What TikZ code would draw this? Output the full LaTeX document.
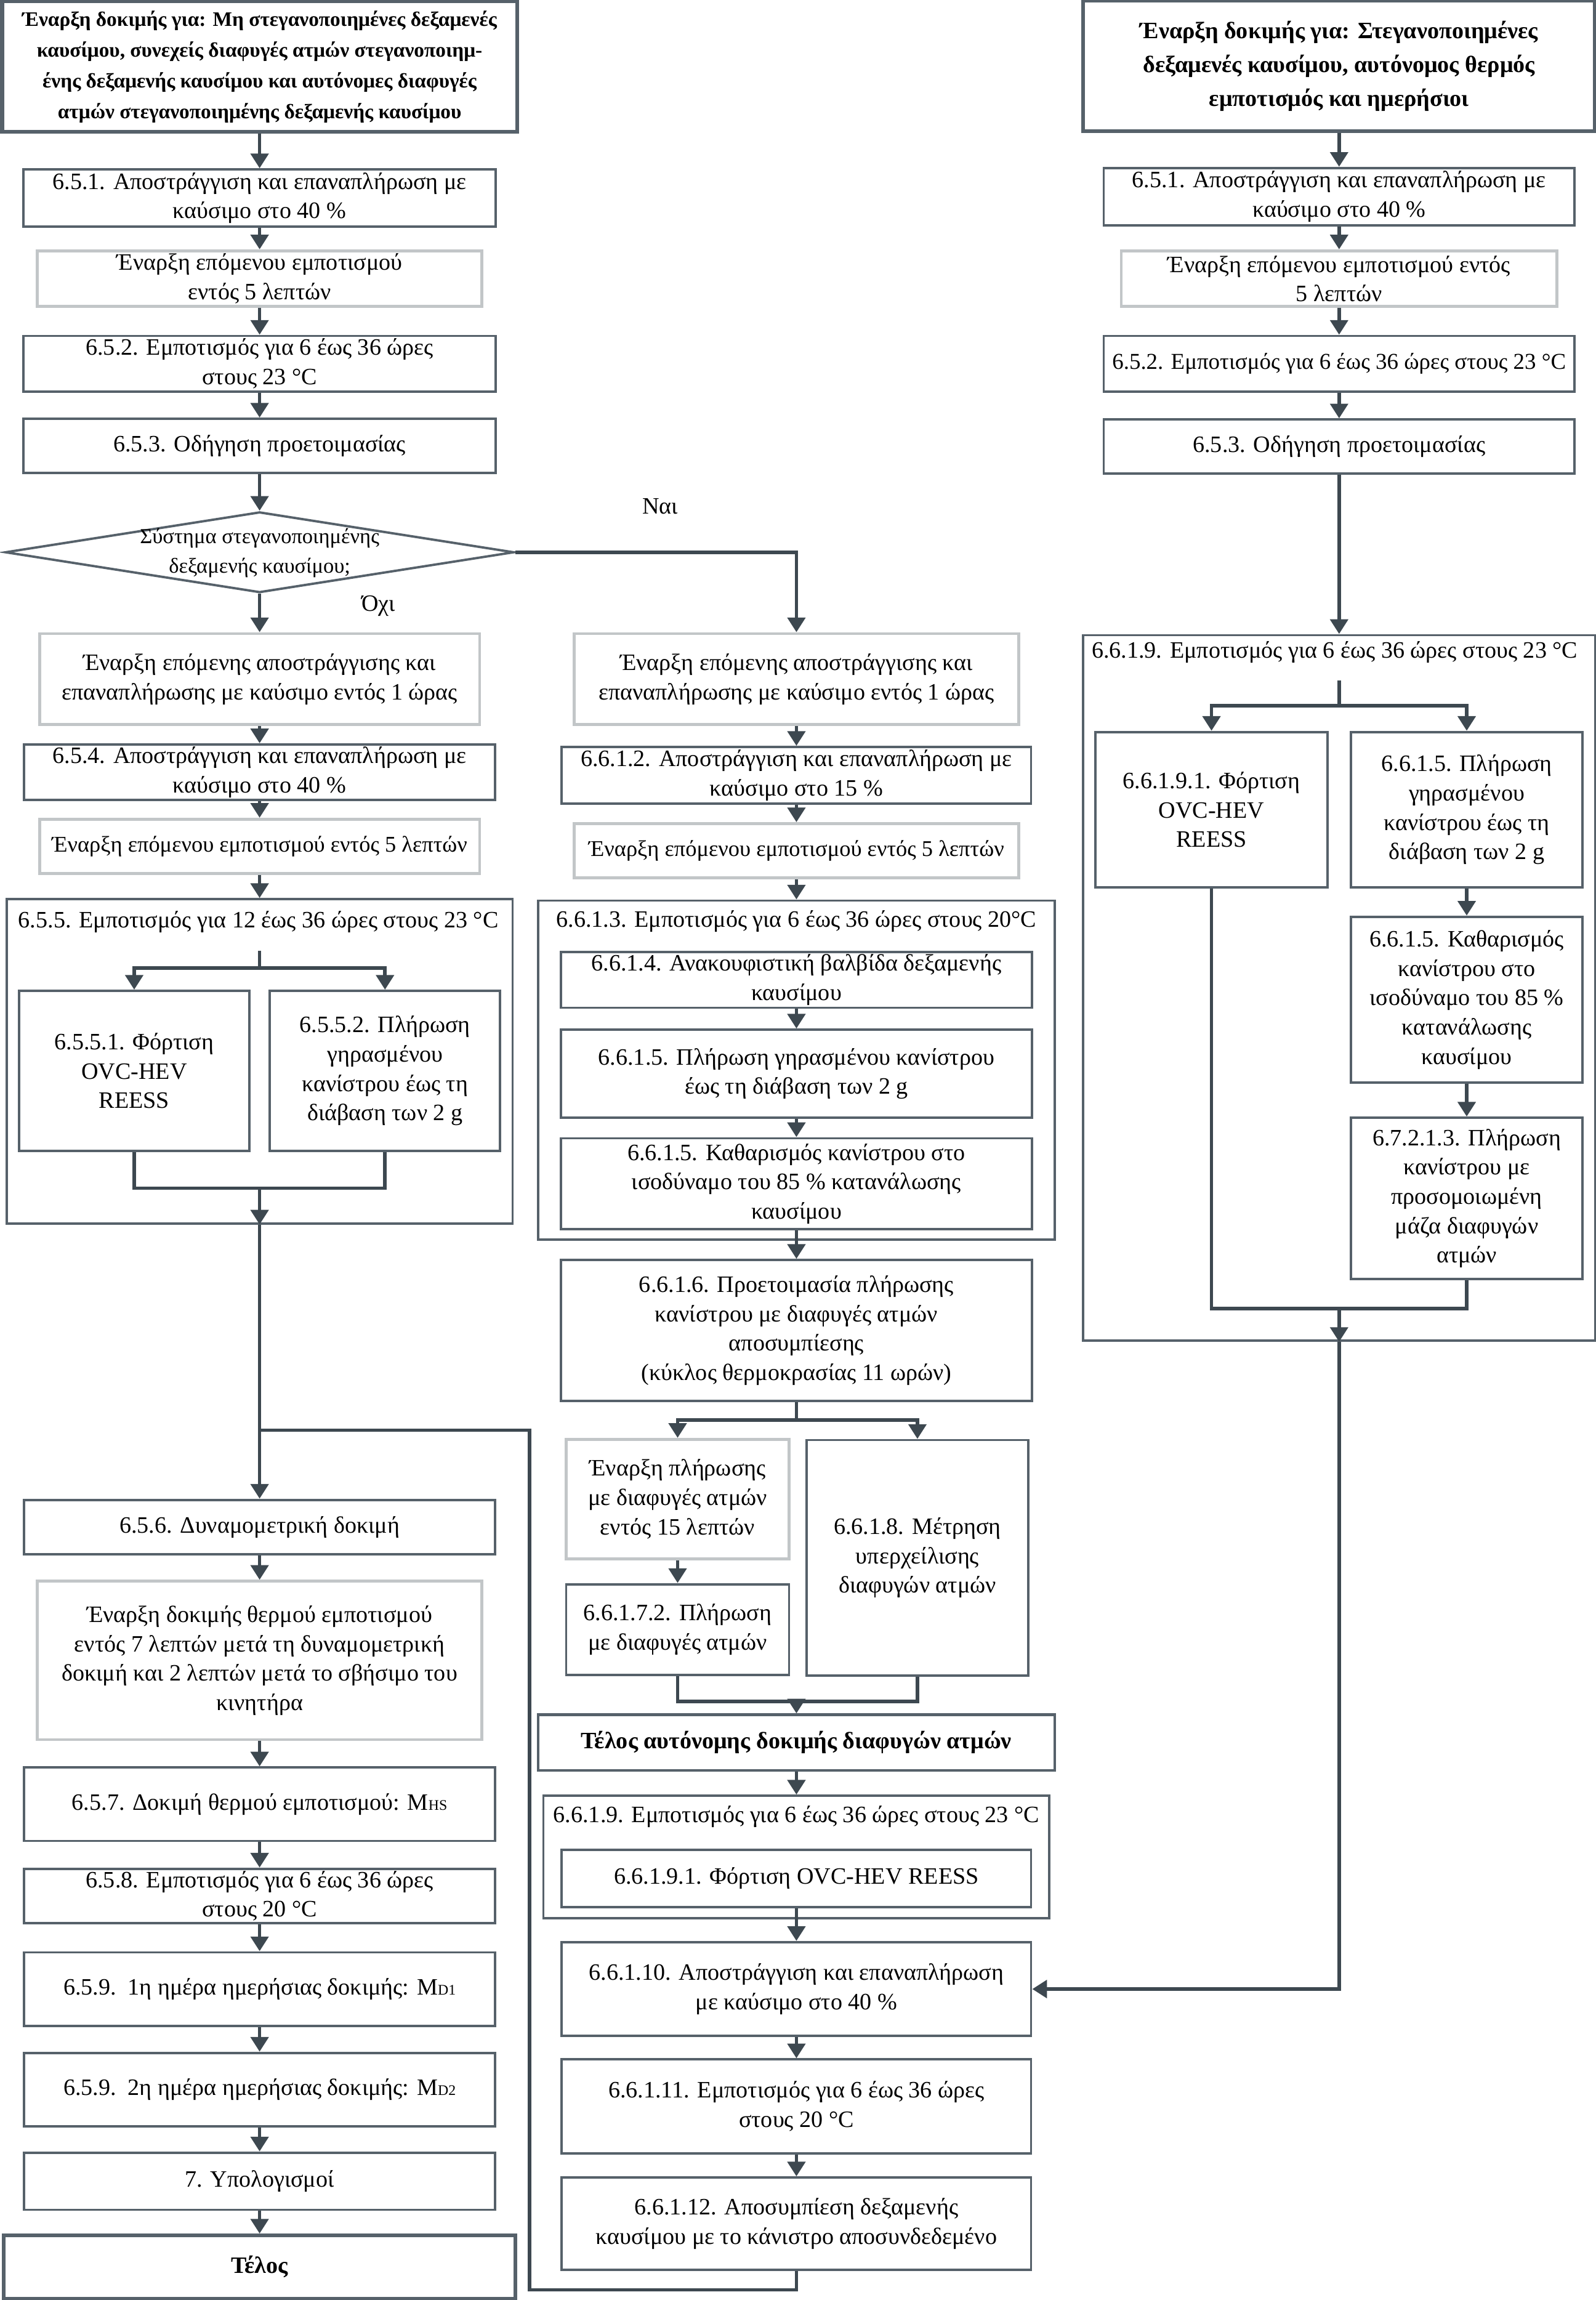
\documentclass[tikz,border=0pt]{standalone}
\usepackage{fontspec}
\setmainfont{Liberation Serif}
\usetikzlibrary{arrows.meta,shapes.geometric}
\definecolor{edge}{HTML}{56616A}
\definecolor{paleedge}{HTML}{C2C6C8}
\definecolor{wire}{HTML}{3D4850}
\newcommand\subm[1]{{\fontsize{10}{10}\selectfont #1}}

\begin{document}
\begin{tikzpicture}[
  x=1pt, y=-1pt,
  font=\fontsize{16}{20}\selectfont,
  sz/.style 2 args={minimum width=#1pt, minimum height=#2pt},
  box/.style={draw=edge, line width=1.6pt, align=center, inner sep=1pt, fill=white},
  pale/.style={box, draw=paleedge, line width=2pt},
  grp/.style={draw=edge, line width=1.6pt},
  head/.style={box, line width=2.6pt, font=\bfseries\fontsize{14}{21}\selectfont},
  ask/.style={draw=edge, line width=1.6pt, diamond, inner sep=0pt},
  ln/.style={draw=wire, line width=2.4pt},
  ar/.style={ln, -{Triangle[width=12pt,length=10pt]}}
]
\useasboundingbox (0,0) rectangle (1088,1568);

% left column: unsealed tanks
\node[head, sz={351}{89}] (l0) at (177,45.5)
     {Έναρξη δοκιμής για: Μη στεγανοποιημένες δεξαμενές\\
      καυσίμου, συνεχείς διαφυγές ατμών στεγανοποιημ-\\
      ένης δεξαμενής καυσίμου και αυτόνομες διαφυγές\\
      ατμών στεγανοποιημένης δεξαμενής καυσίμου};
\node[box, sz={322}{39}] (l651) at (177,135)
     {6.5.1. Αποστράγγιση και επαναπλήρωση με\\καύσιμο στο 40 \%};
\node[pale, sz={303}{38}] (l65s) at (177,190)
     {Έναρξη επόμενου εμποτισμού\\εντός 5 λεπτών};
\node[box, sz={322}{38}] (l652) at (177,248)
     {6.5.2. Εμποτισμός για 6 έως 36 ώρες\\στους 23 °C};
\node[box, sz={322}{37}] (l653) at (177,304) {6.5.3. Οδήγηση προετοιμασίας};
\node[ask, sz={347}{55}] (dq) at (177,376.5) {};
\node[font=\fontsize{14.5}{20}\selectfont, align=center] (dqt) at (177,377)
     {Σύστημα στεγανοποιημένης\\δεξαμενής καυσίμου;};
\node (yes) at (450,345) {Ναι};
\node (no) at (258,413) {Όχι};
\node[pale, sz={300}{62}] (l654s) at (177,463)
     {Έναρξη επόμενης αποστράγγισης και\\επαναπλήρωσης με καύσιμο εντός 1 ώρας};
\node[box, sz={321}{38}] (l654) at (177,526.5)
     {6.5.4. Αποστράγγιση και επαναπλήρωση με\\καύσιμο στο 40 \%};
\node[pale, sz={300}{37}, font=\fontsize{15.3}{20}\selectfont] (l655s) at (177,577)
     {Έναρξη επόμενου εμποτισμού εντός 5 λεπτών};
\node[grp, sz={345}{221}] (g655) at (177,723.5) {};
\node[anchor=west] (t655) at (9,628.5)
     {6.5.5. Εμποτισμός για 12 έως 36 ώρες στους 23 °C};
\node[box, sz={157}{109}] (l6551) at (91.5,730)
     {6.5.5.1. Φόρτιση\\OVC-HEV\\REESS};
\node[box, sz={157}{109}] (l6552) at (262.5,730)
     {6.5.5.2. Πλήρωση\\γηρασμένου\\κανίστρου έως τη\\διάβαση των 2 g};
\node[box, sz={321}{37}] (l656) at (177,1041) {6.5.6. Δυναμομετρική δοκιμή};
\node[pale, sz={303}{108}] (l657s) at (177,1132)
     {Έναρξη δοκιμής θερμού εμποτισμού\\εντός 7 λεπτών μετά τη δυναμομετρική\\
      δοκιμή και 2 λεπτών μετά το σβήσιμο του\\κινητήρα};
\node[box, sz={321}{50}] (l657) at (177,1230)
     {6.5.7. Δοκιμή θερμού εμποτισμού: M\subm{HS}};
\node[box, sz={321}{37}] (l658) at (177,1292.5)
     {6.5.8. Εμποτισμός για 6 έως 36 ώρες\\στους 20 °C};
\node[box, sz={321}{50}] (l659a) at (177,1356)
     {6.5.9.\ \ 1η ημέρα ημερήσιας δοκιμής: M\subm{D1}};
\node[box, sz={321}{50}] (l659b) at (177,1424.5)
     {6.5.9.\ \ 2η ημέρα ημερήσιας δοκιμής: M\subm{D2}};
\node[box, sz={321}{39}] (l7) at (177,1487) {7. Υπολογισμοί};
\node[head, sz={349}{43}, font=\bfseries\fontsize{16}{20}\selectfont] (lend)
     at (177,1545.5) {Τέλος};

% middle column: sealed system
\node[pale, sz={303}{62}] (m1s) at (543,463)
     {Έναρξη επόμενης αποστράγγισης και\\επαναπλήρωσης με καύσιμο εντός 1 ώρας};
\node[box, sz={320}{38.5}] (m612) at (543,528.5)
     {6.6.1.2. Αποστράγγιση και επαναπλήρωση με\\καύσιμο στο 15 \%};
\node[pale, sz={303}{37}, font=\fontsize{15.3}{20}\selectfont] (m613s) at (543,580)
     {Έναρξη επόμενου εμποτισμού εντός 5 λεπτών};
\node[grp, sz={352}{231}] (g613) at (543,729.5) {};
\node (t613) at (543,628) {6.6.1.3. Εμποτισμός για 6 έως 36 ώρες στους 20°C};
\node[box, sz={321}{38}] (m614) at (543,668)
     {6.6.1.4. Ανακουφιστική βαλβίδα δεξαμενής\\καυσίμου};
\node[box, sz={321}{60}] (m615a) at (543,732)
     {6.6.1.5. Πλήρωση γηρασμένου κανίστρου\\έως τη διάβαση των 2 g};
\node[box, sz={321}{62}] (m615b) at (543,807)
     {6.6.1.5. Καθαρισμός κανίστρου στο\\ισοδύναμο του 85 \% κατανάλωσης\\καυσίμου};
\node[box, sz={321}{96}] (m616) at (543,907)
     {6.6.1.6. Προετοιμασία πλήρωσης\\κανίστρου με διαφυγές ατμών\\αποσυμπίεσης\\
      (κύκλος θερμοκρασίας 11 ωρών)};
\node[pale, sz={152}{81.5}] (m617s) at (462,1022)
     {Έναρξη πλήρωσης\\με διαφυγές ατμών\\εντός 15 λεπτών};
\node[box, sz={152}{62}] (m6172) at (462,1111)
     {6.6.1.7.2. Πλήρωση\\με διαφυγές ατμών};
\node[box, sz={151}{160.5}] (m618) at (625.5,1062)
     {6.6.1.8. Μέτρηση\\υπερχείλισης\\διαφυγών ατμών};
\node[head, sz={352}{38}, line width=1.8pt, font=\bfseries\fontsize{16}{20}\selectfont]
     (mend) at (543,1188) {Τέλος αυτόνομης δοκιμής διαφυγών ατμών};
\node[grp, sz={345}{83.5}] (g619) at (543,1266) {};
\node (t619) at (543,1238.5) {6.6.1.9. Εμποτισμός για 6 έως 36 ώρες στους 23 °C};
\node[box, sz={320}{39}] (m6191) at (543,1280.5) {6.6.1.9.1. Φόρτιση OVC-HEV REESS};
\node[box, sz={320}{64}] (m6110) at (543,1356)
     {6.6.1.10. Αποστράγγιση και επαναπλήρωση\\με καύσιμο στο 40 \%};
\node[box, sz={320}{64}] (m6111) at (543,1436)
     {6.6.1.11. Εμποτισμός για 6 έως 36 ώρες\\στους 20 °C};
\node[box, sz={320}{63}] (m6112) at (543,1516)
     {6.6.1.12. Αποσυμπίεση δεξαμενής\\καυσίμου με το κάνιστρο αποσυνδεδεμένο};

% right column: sealed tanks, hot soak and diurnal
\node[head, sz={349}{89}, font=\bfseries\fontsize{16}{23}\selectfont] (r0) at (913,45)
     {Έναρξη δοκιμής για: Στεγανοποιημένες\\δεξαμενές καυσίμου, αυτόνομος θερμός\\
      εμποτισμός και ημερήσιοι};
\node[box, sz={321}{39}] (r651) at (913,134)
     {6.5.1. Αποστράγγιση και επαναπλήρωση με\\καύσιμο στο 40 \%};
\node[pale, sz={297}{38}] (r65s) at (913,190)
     {Έναρξη επόμενου εμποτισμού εντός\\5 λεπτών};
\node[box, sz={321}{38}, font=\fontsize{15.5}{20}\selectfont] (r652) at (913,248)
     {6.5.2. Εμποτισμός για 6 έως 36 ώρες στους 23 °C};
\node[box, sz={321}{37}] (r653) at (913,304.5) {6.5.3. Οδήγηση προετοιμασίας};
\node[grp, sz={349}{481}] (g619r) at (913,673.5) {};
\node (t619r) at (910,444.5) {6.6.1.9. Εμποτισμός για 6 έως 36 ώρες στους 23 °C};
\node[box, sz={158}{106}] (r6191) at (826,552)
     {6.6.1.9.1. Φόρτιση\\OVC-HEV\\REESS};
\node[box, sz={158}{106}] (r615a) at (1000,552)
     {6.6.1.5. Πλήρωση\\γηρασμένου\\κανίστρου έως τη\\διάβαση των 2 g};
\node[box, sz={158}{113}] (r615b) at (1000,681.5)
     {6.6.1.5. Καθαρισμός\\κανίστρου στο\\ισοδύναμο του 85 \%\\κατανάλωσης\\καυσίμου};
\node[box, sz={158}{110}] (r6721) at (1000,817)
     {6.7.2.1.3. Πλήρωση\\κανίστρου με\\προσομοιωμένη\\μάζα διαφυγών\\ατμών};

% connectors, left
\draw[ar] (l0) -- (l651);
\draw[ar] (l651) -- (l65s);
\draw[ar] (l65s) -- (l652);
\draw[ar] (l652) -- (l653);
\draw[ar] (l653) -- (dq);
\draw[ar] (dq) -- (l654s);
\draw[ar] (l654s) -- (l654);
\draw[ar] (l654) -- (l655s);
\draw[ar] (l655s) -- (g655);
\coordinate (s655) at (177,648);
\coordinate (f655) at (177,660);
\draw[ln] (s655) -- (f655);
\draw[ar] (f655) -| (l6551);
\draw[ar] (f655) -| (l6552);
\coordinate (j655) at (177,810);
\draw[ln] (l6551) |- (j655) -| (l6552);
\draw[ar] (j655) -- (g655.south);
\draw[ar] (g655.south) -- (l656);
\draw[ar] (l656) -- (l657s);
\draw[ar] (l657s) -- (l657);
\draw[ar] (l657) -- (l658);
\draw[ar] (l658) -- (l659a);
\draw[ar] (l659a) -- (l659b);
\draw[ar] (l659b) -- (l7);
\draw[ar] (l7) -- (lend);

% connectors, middle
\draw[ar] (dq.east) -| (m1s);
\draw[ar] (m1s) -- (m612);
\draw[ar] (m612) -- (m613s);
\draw[ar] (m613s) -- (g613);
\draw[ar] (m614) -- (m615a);
\draw[ar] (m615a) -- (m615b);
\draw[ar] (m615b) -- (m616);
\coordinate (f616) at (543,968);
\draw[ln] (m616) -- (f616);
\draw[ar] (f616) -| (m617s);
\draw[ar] (f616) -| (m618);
\draw[ar] (m617s) -- (m6172);
\coordinate (j617) at (543,1160);
\draw[ln] (m6172) |- (j617) -| (m618);
\draw[ar] (j617) -- (mend);
\draw[ar] (mend) -- (g619);
\draw[ar] (m6191) -- (m6110);
\draw[ar] (m6110) -- (m6111);
\draw[ar] (m6111) -- (m6112);
\coordinate (b612) at (361,1561);
\coordinate (mrg) at (177,975);
\draw[ln] (m6112) |- (b612) |- (mrg);

% connectors, right
\draw[ar] (r0) -- (r651);
\draw[ar] (r651) -- (r65s);
\draw[ar] (r65s) -- (r652);
\draw[ar] (r652) -- (r653);
\draw[ar] (r653) -- (g619r);
\coordinate (s619r) at (913,464);
\coordinate (f619r) at (913,481);
\draw[ln] (s619r) -- (f619r);
\draw[ar] (f619r) -| (r6191);
\draw[ar] (f619r) -| (r615a);
\draw[ar] (r615a) -- (r615b);
\draw[ar] (r615b) -- (r6721);
\coordinate (j619r) at (913,892);
\draw[ln] (r6191) |- (j619r) -| (r6721);
\draw[ar] (j619r) -- (g619r.south);
\draw[ar] (g619r.south) |- (m6110);
\end{tikzpicture}
\end{document}
